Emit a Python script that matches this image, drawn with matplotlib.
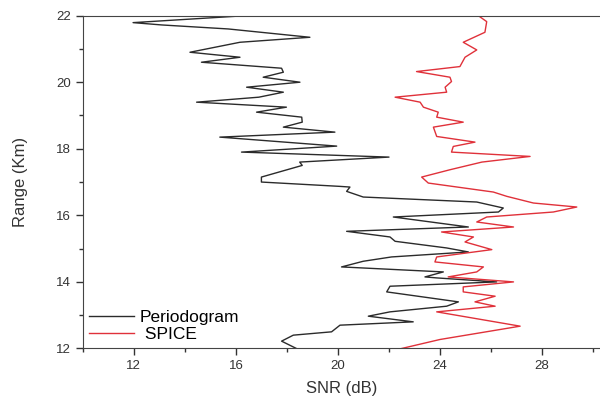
import matplotlib
matplotlib.use("Agg")
import matplotlib.pyplot as plt
from matplotlib.ticker import MultipleLocator

plt.rcParams['font.family'] = ['Liberation Sans', 'DejaVu Sans']

# Periodogram (black): SNR in dB vs range in km
peri_range = [22.0, 21.79, 21.72, 21.6, 21.35, 21.2, 20.9, 20.75, 20.6, 20.42, 20.3,
              20.15, 20.0, 19.85, 19.7, 19.55, 19.4, 19.25, 19.1, 18.95, 18.8, 18.65,
              18.5, 18.35, 18.08, 17.9, 17.75, 17.6, 17.5, 17.15, 17.0, 16.87, 16.85,
              16.72, 16.55, 16.4, 16.22, 16.1, 15.95, 15.65, 15.52, 15.35, 15.22,
              15.02, 14.9, 14.75, 14.62, 14.45, 14.3, 14.15, 14.12, 14.0, 13.87, 13.7,
              13.4, 13.27, 13.1, 12.97, 12.8, 12.7, 12.5, 12.4, 12.22, 12.0]
peri_snr = [16.4, 11.97, 13.1, 15.7, 18.9, 16.16, 14.2, 16.16, 14.65, 17.79, 17.86,
            17.07, 18.51, 16.42, 17.86, 16.9, 14.46, 17.98, 16.81, 18.58, 18.6, 17.86,
            19.88, 15.37, 19.95, 16.22, 22.0, 18.5, 18.6, 17.0, 17.0, 20.08, 20.47,
            20.34, 20.99, 25.44, 26.48, 26.29, 22.17, 25.11, 20.34, 22.04, 22.24,
            24.26, 25.11, 22.1, 20.99, 20.14, 24.13, 23.41, 23.87, 26.22, 22.04, 21.91,
            24.72, 24.26, 22.04, 21.19, 22.95, 20.08, 19.75, 18.25, 17.79, 18.37]

# SPICE (red)
spice_range = [22.0, 21.82, 21.5, 21.2, 20.97, 20.75, 20.47, 20.32, 20.15, 20.02,
               19.85, 19.7, 19.55, 19.4, 19.25, 19.1, 18.95, 18.8, 18.65, 18.37, 18.2,
               18.07, 17.9, 17.77, 17.6, 17.37, 17.15, 16.97, 16.7, 16.57, 16.37, 16.25,
               16.1, 15.95, 15.8, 15.65, 15.5, 15.35, 15.2, 14.97, 14.75, 14.6, 14.45,
               14.3, 14.15, 14.0, 13.85, 13.7, 13.57, 13.4, 13.27, 13.1, 12.67, 12.47,
               12.27, 12.0]
spice_snr = [25.5, 25.83, 25.76, 24.91, 25.44, 24.98, 24.78, 23.08, 24.39, 24.45,
             24.2, 24.26, 22.24, 23.22, 23.35, 23.93, 23.87, 24.91, 23.74, 23.87, 25.37,
             24.52, 24.45, 27.53, 25.64, 24.39, 23.28, 23.54, 26.09, 26.62, 27.66, 29.36,
             28.44, 25.83, 25.44, 26.88, 24.06, 25.31, 24.98, 26.03, 23.87, 23.8, 25.7,
             25.44, 24.32, 26.88, 24.91, 24.91, 26.16, 25.37, 26.16, 23.87, 27.14, 25.57,
             24.0, 22.5]

fig = plt.figure(figsize=(6.0, 4.01), dpi=100)
ax = fig.add_axes([0.138, 0.131, 0.862, 0.830])

ax.plot(peri_snr, peri_range, color='#2b2b2b', lw=1.0, label='Periodogram')
ax.plot(spice_snr, spice_range, color='#e0313a', lw=1.0, label=' SPICE')

ax.set_xlim(10, 30.27)
ax.set_ylim(12, 22)
ax.xaxis.set_major_locator(MultipleLocator(4))
ax.xaxis.set_minor_locator(MultipleLocator(2))
ax.yaxis.set_major_locator(MultipleLocator(2))
ax.yaxis.set_minor_locator(MultipleLocator(1))
ax.set_xticks([12, 16, 20, 24, 28])
ax.tick_params(which='major', direction='out', length=5, width=1, labelsize=9.5, colors='#333333')
ax.tick_params(which='minor', direction='out', length=3, width=1, colors='#333333')
ax.spines['right'].set_visible(False)
for s in ['left', 'bottom', 'top']:
    ax.spines[s].set_color('#444444')

ax.set_xlabel('SNR (dB)', fontsize=12, color='#333333', labelpad=6)
ax.set_ylabel('Range (Km)', fontsize=12, color='#333333', labelpad=20)

leg = ax.legend(loc='lower left', frameon=False, fontsize=12.5, handlelength=2.6,
                borderaxespad=0, borderpad=0.35, labelspacing=0.12, handletextpad=0.35)

fig.savefig('out.png', dpi=100)
